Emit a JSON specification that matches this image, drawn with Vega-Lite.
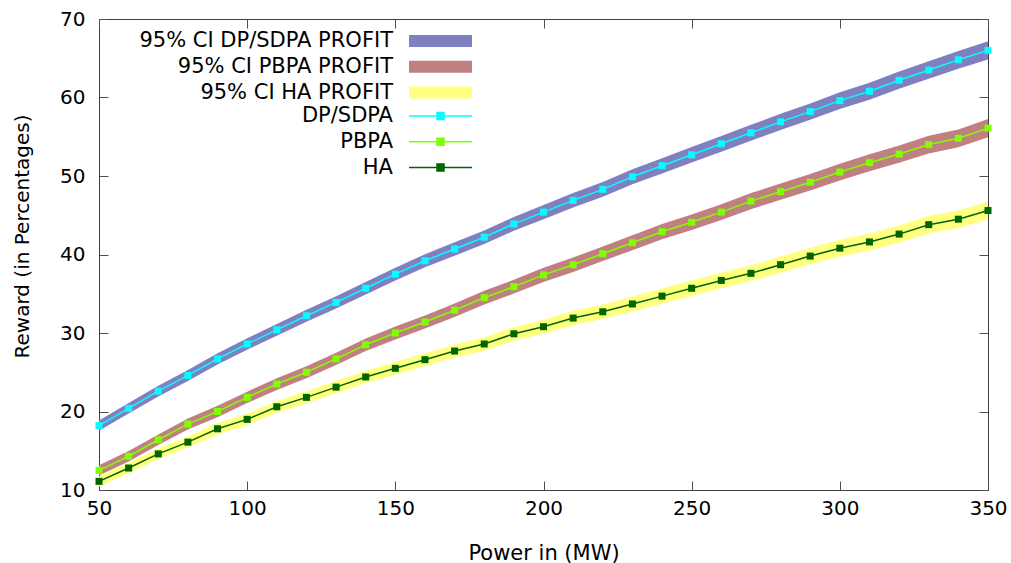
{
  "$schema": "https://vega.github.io/schema/vega-lite/v6.json",
  "width": 889,
  "height": 471,
  "autosize": {"type": "none"},
  "padding": {"left": 99, "top": 19, "right": 23, "bottom": 73},
  "background": "white",
  "config": {
    "view": {"stroke": "#404040", "strokeWidth": 1},
    "font": "DejaVu Sans",
    "axis": {
      "domain": false,
      "grid": false,
      "tickSize": -9,
      "tickColor": "#505050",
      "tickWidth": 1,
      "labelFlush": false,
      "labelFont": "DejaVu Sans",
      "labelFontSize": 20,
      "labelColor": "#000000",
      "titleFont": "DejaVu Sans",
      "titleFontSize": 20,
      "titleFontWeight": "normal",
      "titleColor": "#000000"
    },
    "legend": {
      "orient": "none",
      "padding": 0,
      "labelAlign": "right",
      "labelFont": "DejaVu Sans",
      "labelFontSize": 21,
      "labelColor": "#000000",
      "labelLimit": 600,
      "symbolSize": 100,
      "symbolOffset": 0,
      "labelOffset": -58,
      "rowPadding": 3.8,
      "symbolOpacity": 1
    }
  },
  "data": {
    "values": [
      {"s":"DP/SDPA","b":"95% CI DP/SDPA PROFIT","x":50,"y":18.2,"lo":17.55,"hi":18.85},
      {"s":"DP/SDPA","b":"95% CI DP/SDPA PROFIT","x":60,"y":20.4,"lo":19.73,"hi":21.07},
      {"s":"DP/SDPA","b":"95% CI DP/SDPA PROFIT","x":70,"y":22.6,"lo":21.92,"hi":23.28},
      {"s":"DP/SDPA","b":"95% CI DP/SDPA PROFIT","x":80,"y":24.6,"lo":23.9,"hi":25.3},
      {"s":"DP/SDPA","b":"95% CI DP/SDPA PROFIT","x":90,"y":26.7,"lo":25.98,"hi":27.42},
      {"s":"DP/SDPA","b":"95% CI DP/SDPA PROFIT","x":100,"y":28.6,"lo":27.87,"hi":29.33},
      {"s":"DP/SDPA","b":"95% CI DP/SDPA PROFIT","x":110,"y":30.4,"lo":29.65,"hi":31.15},
      {"s":"DP/SDPA","b":"95% CI DP/SDPA PROFIT","x":120,"y":32.2,"lo":31.43,"hi":32.97},
      {"s":"DP/SDPA","b":"95% CI DP/SDPA PROFIT","x":130,"y":33.9,"lo":33.12,"hi":34.68},
      {"s":"DP/SDPA","b":"95% CI DP/SDPA PROFIT","x":140,"y":35.7,"lo":34.9,"hi":36.5},
      {"s":"DP/SDPA","b":"95% CI DP/SDPA PROFIT","x":150,"y":37.5,"lo":36.68,"hi":38.32},
      {"s":"DP/SDPA","b":"95% CI DP/SDPA PROFIT","x":160,"y":39.2,"lo":38.37,"hi":40.03},
      {"s":"DP/SDPA","b":"95% CI DP/SDPA PROFIT","x":170,"y":40.7,"lo":39.85,"hi":41.55},
      {"s":"DP/SDPA","b":"95% CI DP/SDPA PROFIT","x":180,"y":42.2,"lo":41.33,"hi":43.07},
      {"s":"DP/SDPA","b":"95% CI DP/SDPA PROFIT","x":190,"y":43.9,"lo":43.02,"hi":44.78},
      {"s":"DP/SDPA","b":"95% CI DP/SDPA PROFIT","x":200,"y":45.4,"lo":44.5,"hi":46.3},
      {"s":"DP/SDPA","b":"95% CI DP/SDPA PROFIT","x":210,"y":46.9,"lo":45.98,"hi":47.82},
      {"s":"DP/SDPA","b":"95% CI DP/SDPA PROFIT","x":220,"y":48.3,"lo":47.37,"hi":49.23},
      {"s":"DP/SDPA","b":"95% CI DP/SDPA PROFIT","x":230,"y":49.9,"lo":48.95,"hi":50.85},
      {"s":"DP/SDPA","b":"95% CI DP/SDPA PROFIT","x":240,"y":51.3,"lo":50.33,"hi":52.27},
      {"s":"DP/SDPA","b":"95% CI DP/SDPA PROFIT","x":250,"y":52.7,"lo":51.72,"hi":53.68},
      {"s":"DP/SDPA","b":"95% CI DP/SDPA PROFIT","x":260,"y":54.1,"lo":53.1,"hi":55.1},
      {"s":"DP/SDPA","b":"95% CI DP/SDPA PROFIT","x":270,"y":55.5,"lo":54.48,"hi":56.52},
      {"s":"DP/SDPA","b":"95% CI DP/SDPA PROFIT","x":280,"y":56.9,"lo":55.87,"hi":57.93},
      {"s":"DP/SDPA","b":"95% CI DP/SDPA PROFIT","x":290,"y":58.2,"lo":57.15,"hi":59.25},
      {"s":"DP/SDPA","b":"95% CI DP/SDPA PROFIT","x":300,"y":59.6,"lo":58.53,"hi":60.67},
      {"s":"DP/SDPA","b":"95% CI DP/SDPA PROFIT","x":310,"y":60.8,"lo":59.72,"hi":61.88},
      {"s":"DP/SDPA","b":"95% CI DP/SDPA PROFIT","x":320,"y":62.2,"lo":61.1,"hi":63.3},
      {"s":"DP/SDPA","b":"95% CI DP/SDPA PROFIT","x":330,"y":63.5,"lo":62.38,"hi":64.62},
      {"s":"DP/SDPA","b":"95% CI DP/SDPA PROFIT","x":340,"y":64.8,"lo":63.67,"hi":65.93},
      {"s":"DP/SDPA","b":"95% CI DP/SDPA PROFIT","x":350,"y":66.0,"lo":64.85,"hi":67.15},
      {"s":"PBPA","b":"95% CI PBPA PROFIT","x":50,"y":12.5,"lo":11.85,"hi":13.15},
      {"s":"PBPA","b":"95% CI PBPA PROFIT","x":60,"y":14.3,"lo":13.63,"hi":14.97},
      {"s":"PBPA","b":"95% CI PBPA PROFIT","x":70,"y":16.4,"lo":15.72,"hi":17.08},
      {"s":"PBPA","b":"95% CI PBPA PROFIT","x":80,"y":18.4,"lo":17.7,"hi":19.1},
      {"s":"PBPA","b":"95% CI PBPA PROFIT","x":90,"y":20.0,"lo":19.28,"hi":20.72},
      {"s":"PBPA","b":"95% CI PBPA PROFIT","x":100,"y":21.8,"lo":21.07,"hi":22.53},
      {"s":"PBPA","b":"95% CI PBPA PROFIT","x":110,"y":23.5,"lo":22.75,"hi":24.25},
      {"s":"PBPA","b":"95% CI PBPA PROFIT","x":120,"y":25.0,"lo":24.23,"hi":25.77},
      {"s":"PBPA","b":"95% CI PBPA PROFIT","x":130,"y":26.7,"lo":25.92,"hi":27.48},
      {"s":"PBPA","b":"95% CI PBPA PROFIT","x":140,"y":28.5,"lo":27.7,"hi":29.3},
      {"s":"PBPA","b":"95% CI PBPA PROFIT","x":150,"y":30.0,"lo":29.18,"hi":30.82},
      {"s":"PBPA","b":"95% CI PBPA PROFIT","x":160,"y":31.4,"lo":30.57,"hi":32.23},
      {"s":"PBPA","b":"95% CI PBPA PROFIT","x":170,"y":32.9,"lo":32.05,"hi":33.75},
      {"s":"PBPA","b":"95% CI PBPA PROFIT","x":180,"y":34.5,"lo":33.63,"hi":35.37},
      {"s":"PBPA","b":"95% CI PBPA PROFIT","x":190,"y":35.9,"lo":35.02,"hi":36.78},
      {"s":"PBPA","b":"95% CI PBPA PROFIT","x":200,"y":37.4,"lo":36.5,"hi":38.3},
      {"s":"PBPA","b":"95% CI PBPA PROFIT","x":210,"y":38.7,"lo":37.78,"hi":39.62},
      {"s":"PBPA","b":"95% CI PBPA PROFIT","x":220,"y":40.1,"lo":39.17,"hi":41.03},
      {"s":"PBPA","b":"95% CI PBPA PROFIT","x":230,"y":41.5,"lo":40.55,"hi":42.45},
      {"s":"PBPA","b":"95% CI PBPA PROFIT","x":240,"y":42.9,"lo":41.93,"hi":43.87},
      {"s":"PBPA","b":"95% CI PBPA PROFIT","x":250,"y":44.1,"lo":43.12,"hi":45.08},
      {"s":"PBPA","b":"95% CI PBPA PROFIT","x":260,"y":45.4,"lo":44.4,"hi":46.4},
      {"s":"PBPA","b":"95% CI PBPA PROFIT","x":270,"y":46.8,"lo":45.78,"hi":47.82},
      {"s":"PBPA","b":"95% CI PBPA PROFIT","x":280,"y":48.0,"lo":46.97,"hi":49.03},
      {"s":"PBPA","b":"95% CI PBPA PROFIT","x":290,"y":49.2,"lo":48.15,"hi":50.25},
      {"s":"PBPA","b":"95% CI PBPA PROFIT","x":300,"y":50.5,"lo":49.43,"hi":51.57},
      {"s":"PBPA","b":"95% CI PBPA PROFIT","x":310,"y":51.7,"lo":50.62,"hi":52.78},
      {"s":"PBPA","b":"95% CI PBPA PROFIT","x":320,"y":52.8,"lo":51.7,"hi":53.9},
      {"s":"PBPA","b":"95% CI PBPA PROFIT","x":330,"y":54.0,"lo":52.88,"hi":55.12},
      {"s":"PBPA","b":"95% CI PBPA PROFIT","x":340,"y":54.8,"lo":53.67,"hi":55.93},
      {"s":"PBPA","b":"95% CI PBPA PROFIT","x":350,"y":56.1,"lo":54.95,"hi":57.25},
      {"s":"HA","b":"95% CI HA PROFIT","x":50,"y":11.1,"lo":10.45,"hi":11.75},
      {"s":"HA","b":"95% CI HA PROFIT","x":60,"y":12.8,"lo":12.13,"hi":13.47},
      {"s":"HA","b":"95% CI HA PROFIT","x":70,"y":14.6,"lo":13.92,"hi":15.28},
      {"s":"HA","b":"95% CI HA PROFIT","x":80,"y":16.1,"lo":15.4,"hi":16.8},
      {"s":"HA","b":"95% CI HA PROFIT","x":90,"y":17.8,"lo":17.08,"hi":18.52},
      {"s":"HA","b":"95% CI HA PROFIT","x":100,"y":19.0,"lo":18.27,"hi":19.73},
      {"s":"HA","b":"95% CI HA PROFIT","x":110,"y":20.6,"lo":19.85,"hi":21.35},
      {"s":"HA","b":"95% CI HA PROFIT","x":120,"y":21.8,"lo":21.03,"hi":22.57},
      {"s":"HA","b":"95% CI HA PROFIT","x":130,"y":23.1,"lo":22.32,"hi":23.88},
      {"s":"HA","b":"95% CI HA PROFIT","x":140,"y":24.4,"lo":23.6,"hi":25.2},
      {"s":"HA","b":"95% CI HA PROFIT","x":150,"y":25.5,"lo":24.68,"hi":26.32},
      {"s":"HA","b":"95% CI HA PROFIT","x":160,"y":26.6,"lo":25.77,"hi":27.43},
      {"s":"HA","b":"95% CI HA PROFIT","x":170,"y":27.7,"lo":26.85,"hi":28.55},
      {"s":"HA","b":"95% CI HA PROFIT","x":180,"y":28.6,"lo":27.73,"hi":29.47},
      {"s":"HA","b":"95% CI HA PROFIT","x":190,"y":29.9,"lo":29.02,"hi":30.78},
      {"s":"HA","b":"95% CI HA PROFIT","x":200,"y":30.8,"lo":29.9,"hi":31.7},
      {"s":"HA","b":"95% CI HA PROFIT","x":210,"y":31.9,"lo":30.98,"hi":32.82},
      {"s":"HA","b":"95% CI HA PROFIT","x":220,"y":32.7,"lo":31.77,"hi":33.63},
      {"s":"HA","b":"95% CI HA PROFIT","x":230,"y":33.7,"lo":32.75,"hi":34.65},
      {"s":"HA","b":"95% CI HA PROFIT","x":240,"y":34.7,"lo":33.73,"hi":35.67},
      {"s":"HA","b":"95% CI HA PROFIT","x":250,"y":35.7,"lo":34.72,"hi":36.68},
      {"s":"HA","b":"95% CI HA PROFIT","x":260,"y":36.7,"lo":35.7,"hi":37.7},
      {"s":"HA","b":"95% CI HA PROFIT","x":270,"y":37.6,"lo":36.58,"hi":38.62},
      {"s":"HA","b":"95% CI HA PROFIT","x":280,"y":38.7,"lo":37.67,"hi":39.73},
      {"s":"HA","b":"95% CI HA PROFIT","x":290,"y":39.8,"lo":38.75,"hi":40.85},
      {"s":"HA","b":"95% CI HA PROFIT","x":300,"y":40.8,"lo":39.73,"hi":41.87},
      {"s":"HA","b":"95% CI HA PROFIT","x":310,"y":41.6,"lo":40.52,"hi":42.68},
      {"s":"HA","b":"95% CI HA PROFIT","x":320,"y":42.6,"lo":41.5,"hi":43.7},
      {"s":"HA","b":"95% CI HA PROFIT","x":330,"y":43.8,"lo":42.68,"hi":44.92},
      {"s":"HA","b":"95% CI HA PROFIT","x":340,"y":44.5,"lo":43.37,"hi":45.63},
      {"s":"HA","b":"95% CI HA PROFIT","x":350,"y":45.6,"lo":44.45,"hi":46.75}
    ]
  },
  "layer": [
    {
      "mark": {"type": "area", "opacity": 1},
      "encoding": {
        "x": {
          "field": "x", "type": "quantitative",
          "scale": {"domain": [50, 350], "nice": false, "zero": false},
          "axis": {
            "orient": "bottom",
            "title": "Power in (MW)",
            "titleFontSize": 21,
            "values": [50, 100, 150, 200, 250, 300, 350],
            "labelPadding": 17,
            "titleX": 444.5, "titleY": 69, "titleBaseline": "alphabetic"
          }
        },
        "y": {
          "field": "lo", "type": "quantitative",
          "scale": {"domain": [10, 70], "nice": false, "zero": false},
          "axis": {
            "orient": "left",
            "title": "Reward (in Percentages)",
            "values": [10, 20, 30, 40, 50, 60, 70],
            "labelPadding": 23,
            "titleX": -71, "titleY": 217, "titleAngle": -90, "titleBaseline": "alphabetic", "titleAlign": "center"
          }
        },
        "y2": {"field": "hi"},
        "fill": {
          "field": "b", "type": "nominal",
          "scale": {
            "domain": ["95% CI DP/SDPA PROFIT", "95% CI PBPA PROFIT", "95% CI HA PROFIT"],
            "range": ["#8080c0", "#c08080", "#ffff80"]
          },
          "legend": {
            "title": null,
            "legendX": 331,
            "legendY": 11.5,
            "symbolType": "M-6.3,-1.2H6.3V1.2H-6.3Z",
            "symbolStrokeWidth": 0
          }
        },
        "detail": {"field": "b"}
      }
    },
    {
      "mark": {"type": "line", "strokeWidth": 1.5, "point": {"filled": true, "shape": "square", "size": 49, "opacity": 1}},
      "encoding": {
        "x": {
          "field": "x", "type": "quantitative",
          "axis": {"orient": "top", "title": null, "labels": false, "values": [50, 100, 150, 200, 250, 300, 350]}
        },
        "y": {
          "field": "y", "type": "quantitative",
          "axis": {"orient": "right", "title": null, "labels": false, "values": [10, 20, 30, 40, 50, 60, 70]}
        },
        "color": {
          "field": "s", "type": "nominal",
          "scale": {"domain": ["DP/SDPA", "PBPA", "HA"], "range": ["#00ffff", "#80ff00", "#006400"]},
          "legend": {
            "title": null,
            "legendX": 331,
            "legendY": 86.5,
            "symbolType": "M-6.3,0H6.3M-0.7,-0.7H0.7V0.7H-0.7Z",
            "symbolStrokeWidth": 1.5,
            "encode": {
              "symbols": {
                "update": {
                  "fill": {"scale": "color", "field": "value"},
                  "stroke": {"scale": "color", "field": "value"}
                }
              }
            }
          }
        },
        "detail": {"field": "s"}
      }
    }
  ],
  "resolve": {"axis": {"x": "independent", "y": "independent"}}
}
